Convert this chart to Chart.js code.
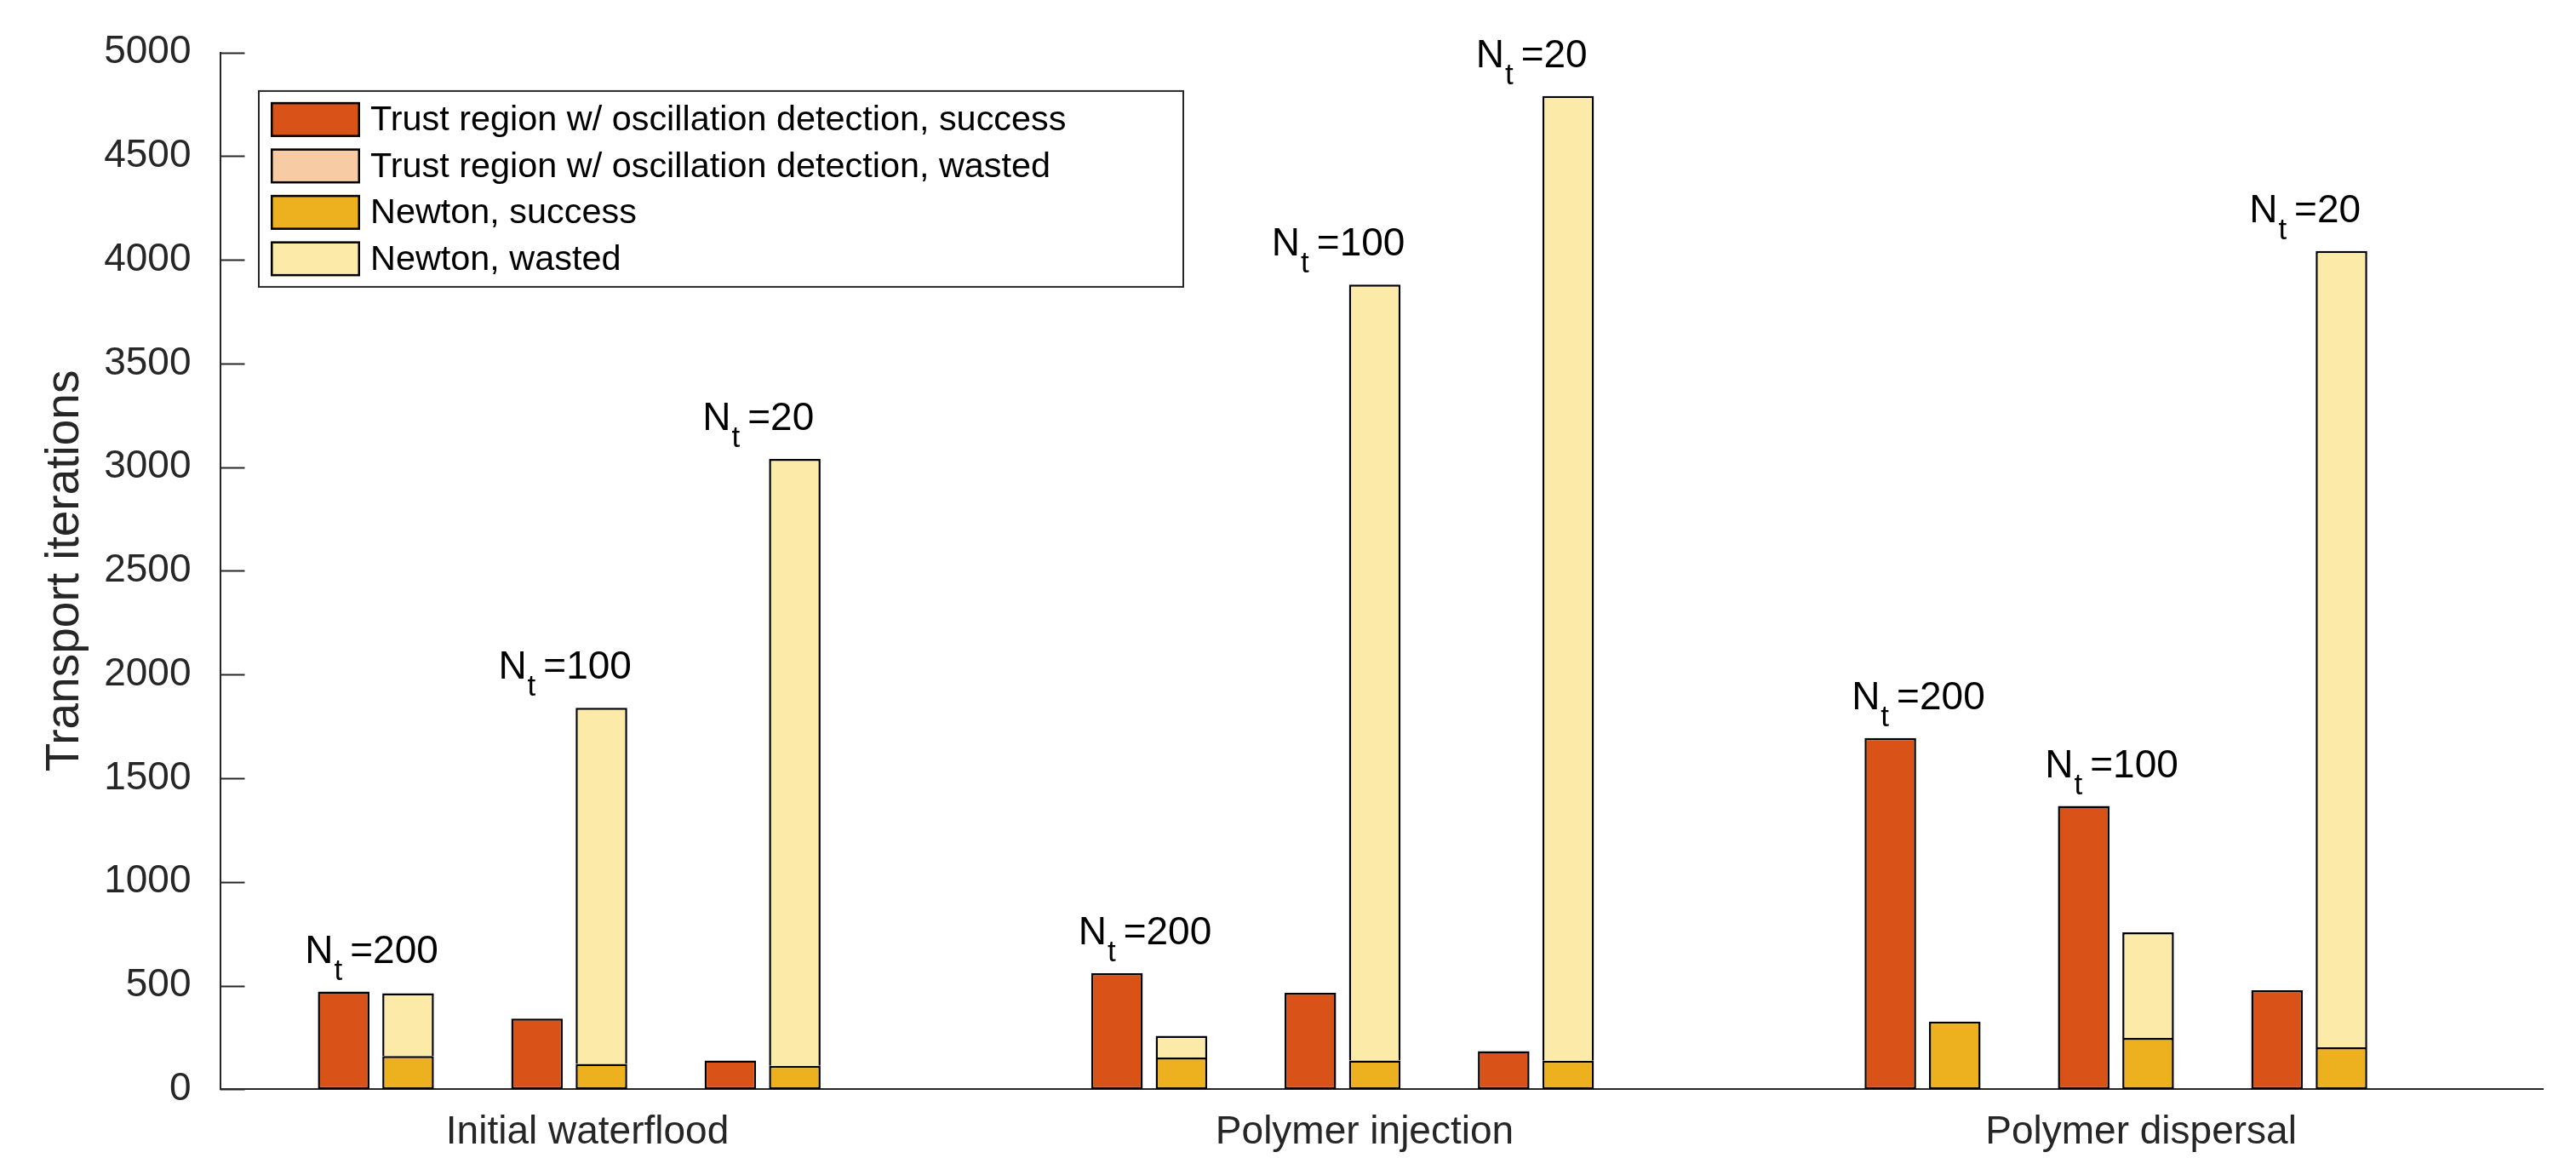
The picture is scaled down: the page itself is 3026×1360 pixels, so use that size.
<!DOCTYPE html>
<html>
<head>
<meta charset="utf-8">
<script src="https://cdn.jsdelivr.net/npm/chart.js@4.4.1/dist/chart.umd.min.js"></script>
<style>
  html, body { margin: 0; padding: 0; background: #ffffff; }
  #wrap { width: 3026px; height: 1360px; }
</style>
</head>
<body>
<div id="wrap"><canvas id="c" width="3026" height="1360"></canvas></div>
<script>
// ---------------- data ----------------
const groups = ['Initial waterflood', 'Polymer injection', 'Polymer dispersal'];
const timeSteps = ['200', '100', '20'];           // N_t per sub-group, repeated in each group
const trSuccess     = [471, 341, 139, 560, 465, 184, 1694, 1366, 478];
const trWasted      = [0, 0, 0, 0, 0, 0, 0, 0, 0];
const newtonSuccess = [160, 122, 113, 153, 139, 138, 327, 248, 202];
const newtonWasted  = [303, 1718, 2927, 105, 3741, 4652, 0, 509, 3841];
const yTickValues = [0, 500, 1000, 1500, 2000, 2500, 3000, 3500, 4000, 4500, 5000];
const seriesLabels = [
  'Trust region w/ oscillation detection, success',
  'Trust region w/ oscillation detection, wasted',
  'Newton, success',
  'Newton, wasted'
];

// ---------------- styling / layout ----------------
const AXIS = '#262626';
const FONT = "'Liberation Sans', Arial, Helvetica, sans-serif";
const colors = ['#D95319', '#F7CBA3', '#EDB120', '#FCEBA8'];
const groupTickValues = [1.094, 5.114, 9.13];   // label anchor positions on the x scale
const perGroup = timeSteps.length;
const slotOf = (i) => Math.floor(i / perGroup) * (perGroup + 1) + (i % perGroup);
const toPoints = (arr) => arr.map((v, i) => ({ x: slotOf(i), y: v }));

Chart.defaults.font.family = FONT;
Chart.defaults.color = AXIS;

const edgeFull = { top: 2.5, right: 2.5, bottom: 2.5, left: 2.5 };
const edgeTop  = { top: 2.5, right: 2.5, bottom: 0, left: 2.5 };

const datasets = [
  { label: seriesLabels[0], data: toPoints(trSuccess), stack: 'tr', backgroundColor: colors[0], borderWidth: edgeFull },
  { label: seriesLabels[1], data: toPoints(trWasted), stack: 'tr', backgroundColor: colors[1], borderWidth: edgeTop },
  { label: seriesLabels[2], data: toPoints(newtonSuccess), stack: 'newton', backgroundColor: colors[2], borderWidth: edgeFull },
  { label: seriesLabels[3], data: toPoints(newtonWasted), stack: 'newton', backgroundColor: colors[3], borderWidth: edgeTop }
].map(d => Object.assign(d, {
  borderColor: '#000000',
  borderSkipped: false,
  categoryPercentage: 2 / 3,
  barPercentage: 0.8
}));

// inward y ticks
const inwardTicks = {
  id: 'inwardTicks',
  afterDatasetsDraw(chart) {
    const { ctx, chartArea, scales } = chart;
    ctx.save();
    ctx.strokeStyle = AXIS;
    ctx.lineWidth = 2;
    yTickValues.forEach(v => {
      const y = Math.round(scales.y.getPixelForValue(v)) + 0.5;
      ctx.beginPath();
      ctx.moveTo(chartArea.left, y);
      ctx.lineTo(chartArea.left + 29, y);
      ctx.stroke();
    });
    ctx.restore();
  }
};

// N_t annotations above each pair
const ntLabels = {
  id: 'ntLabels',
  afterDatasetsDraw(chart) {
    const { ctx, scales } = chart;
    ctx.save();
    ctx.fillStyle = '#000000';
    ctx.textBaseline = 'alphabetic';
    ctx.textAlign = 'left';
    const mainFont = '46px ' + FONT;
    const subFont = '35px ' + FONT;
    trSuccess.forEach((v, i) => {
      const top = Math.max(trSuccess[i] + trWasted[i], newtonSuccess[i] + newtonWasted[i]);
      const cx = scales.x.getPixelForValue(slotOf(i));
      const baseline = scales.y.getPixelForValue(top) - 34;
      const rest = '=' + timeSteps[i % perGroup];
      ctx.font = mainFont;
      const wN = ctx.measureText('N').width;
      const wRest = ctx.measureText(rest).width;
      ctx.font = subFont;
      const wT = ctx.measureText('t').width;
      const adv = wT + 10;
      const total = wN + adv + wRest;
      let x = cx - total / 2 - 5;
      ctx.font = mainFont;
      ctx.fillText('N', x, baseline);
      ctx.font = subFont;
      ctx.fillText('t', x + wN + 1, baseline + 20);
      ctx.font = mainFont;
      ctx.fillText(rest, x + wN + adv, baseline);
    });
    ctx.restore();
  }
};

// boxed legend inside the axes
const boxLegend = {
  id: 'boxLegend',
  afterDraw(chart) {
    const { ctx, chartArea } = chart;
    const bx = chartArea.left + 45.5, by = chartArea.top + 45.3;
    const bw = 1086, bh = 230;
    ctx.save();
    ctx.fillStyle = '#ffffff';
    ctx.fillRect(bx, by, bw, bh);
    ctx.strokeStyle = AXIS;
    ctx.lineWidth = 2;
    ctx.strokeRect(bx, by, bw, bh);
    ctx.font = '41.4px ' + FONT;
    ctx.textBaseline = 'middle';
    ctx.textAlign = 'left';
    chart.data.datasets.forEach((ds, k) => {
      const sx = bx + 14, sy = by + 13 + k * 54.5, sw = 105, sh = 41;
      ctx.fillStyle = ds.backgroundColor;
      ctx.fillRect(sx, sy, sw, sh);
      ctx.strokeStyle = '#000000';
      ctx.lineWidth = 2.5;
      ctx.strokeRect(sx + 1.25, sy + 1.25, sw - 2.5, sh - 2.5);
      ctx.fillStyle = '#000000';
      ctx.fillText(ds.label, bx + 131, sy + sh / 2 + 1.5);
    });
    ctx.restore();
  }
};

new Chart(document.getElementById('c'), {
  type: 'bar',
  data: { datasets },
  plugins: [inwardTicks, ntLabels, boxLegend],
  options: {
    responsive: false,
    devicePixelRatio: 1,
    animation: false,
    layout: { padding: { left: 0, top: 56.7, right: 39, bottom: 0 } },
    plugins: { legend: { display: false }, tooltip: { enabled: false } },
    scales: {
      x: {
        type: 'linear',
        min: -0.806,
        max: 11.208,
        offset: false,
        z: 1,
        grid: { display: false, drawTicks: false },
        border: { display: true, color: AXIS, width: 2 },
        afterBuildTicks: (scale) => { scale.ticks = groupTickValues.map(v => ({ value: v })); },
        afterFit: (scale) => { scale.height = 80.7; },
        ticks: {
          autoSkip: false,
          maxRotation: 0,
          padding: 23,
          color: AXIS,
          font: { size: 46, family: FONT },
          callback: (value, index) => groups[index]
        }
      },
      y: {
        stacked: true,
        min: 0,
        max: 5000,
        z: 1,
        grid: { display: false, drawTicks: false },
        border: { display: true, color: AXIS, width: 2 },
        afterBuildTicks: (scale) => { scale.ticks = yTickValues.map(v => ({ value: v })); },
        afterFit: (scale) => { scale.width = 258.5; },
        ticks: {
          padding: 34,
          color: AXIS,
          font: { size: 46, family: FONT },
          callback: (value) => String(value)
        },
        title: {
          display: true,
          text: 'Transport iterations',
          color: AXIS,
          font: { size: 55, family: FONT },
          padding: { top: 44, bottom: 0 }
        }
      }
    }
  }
});
</script>
</body>
</html>
